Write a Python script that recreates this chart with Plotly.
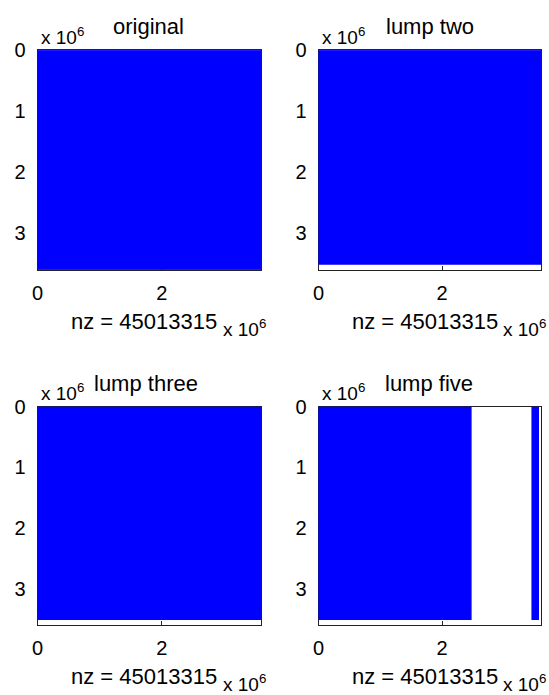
import plotly.graph_objects as go

# ---- data (units: matrix index) ----
panel_titles = ["original", "lump two", "lump three", "lump five"]
nz_values = [45013315, 45013315, 45013315, 45013315]
matrix_size = 3.6e6
# nonzero blocks per panel: column start/end, row start/end
block_col_start = [[0.0], [0.0], [0.0], [0.0, 3.46e6]]
block_col_end = [[3.6e6], [3.6e6], [3.6e6], [2.46e6, 3.55e6]]
block_row_start = [[0.0], [0.0], [0.0], [0.0, 0.0]]
block_row_end = [[3.6e6], [3.5e6], [3.5e6], [3.5e6, 3.5e6]]
x_tick_vals = [0, 2e6]
x_tick_text = ["0", "2"]
y_tick_vals = [0, 1e6, 2e6, 3e6]
y_tick_text = ["0", "1", "2", "3"]

W, H = 549, 695
FONT = "Liberation Sans, Arial, sans-serif"
BLUE = "#0000FF"

# panel pixel boxes (left, top, right, bottom) and title centres
boxes = [(32, 40, 258, 263), (316, 40, 541, 263), (32, 402, 258, 624), (316, 402, 541, 624)]
title_cx = [144, 429, 142, 428]

fig = go.Figure()
annotations = []

def px(x):
    return x / W

def py(y):
    return 1 - y / H

for i, (L, T, R, B) in enumerate(boxes):
    xa = "x" if i == 0 else f"x{i+1}"
    ya = "y" if i == 0 else f"y{i+1}"
    for c0, c1, r0, r1 in zip(block_col_start[i], block_col_end[i], block_row_start[i], block_row_end[i]):
        fig.add_trace(go.Scatter(
            x=[c0, c1, c1, c0, c0], y=[r0, r0, r1, r1, r0],
            mode="lines", fill="toself", fillcolor=BLUE,
            line=dict(color=BLUE, width=2),
            xaxis=xa, yaxis=ya, showlegend=False, hoverinfo="skip"))
    axkey = "" if i == 0 else str(i + 1)
    fig.update_layout(**{
        f"xaxis{axkey}": dict(
            domain=[px(L), px(R)], range=[0, matrix_size], anchor=ya,
            showgrid=False, zeroline=False, showline=True, linecolor="#222", linewidth=1,
            mirror=True, ticks="inside", ticklen=4, tickcolor="#222",
            tickvals=x_tick_vals, ticktext=x_tick_text, layer="below traces",
            tickfont=dict(family=FONT, size=20, color="black"), ticklabelstandoff=5),
        f"yaxis{axkey}": dict(
            domain=[py(B), py(T)], range=[matrix_size, 0], anchor=xa,
            showgrid=False, zeroline=False, showline=True, linecolor="#222", linewidth=1,
            mirror=True, ticks="inside", ticklen=4, tickcolor="#222",
            tickvals=y_tick_vals, ticktext=y_tick_text, layer="below traces",
            tickfont=dict(family=FONT, size=20, color="black"), ticklabelstandoff=7),
    })
    # y exponent
    annotations.append(dict(x=px(L + 1), y=py(T - 15), xref="paper", yref="paper",
                            text="x 10<sup>6</sup>", showarrow=False, xanchor="left", yanchor="middle",
                            font=dict(family=FONT, size=19, color="black")))
    # title
    annotations.append(dict(x=px(title_cx[i]), y=py(T - 24), xref="paper", yref="paper",
                            text=panel_titles[i], showarrow=False, xanchor="center", yanchor="middle",
                            font=dict(family=FONT, size=22, color="black")))
    # xlabel
    annotations.append(dict(x=px(L + 108), y=py(B + 52), xref="paper", yref="paper",
                            text=f"nz = {nz_values[i]}", showarrow=False, xanchor="center", yanchor="middle",
                            font=dict(family=FONT, size=22, color="black")))
    # x exponent
    annotations.append(dict(x=px(R - 41), y=py(B + 59), xref="paper", yref="paper",
                            text="x 10<sup>6</sup>", showarrow=False, xanchor="left", yanchor="middle",
                            font=dict(family=FONT, size=19, color="black")))

fig.update_layout(width=W, height=H, margin=dict(l=0, r=0, t=0, b=0),
                  paper_bgcolor="white", plot_bgcolor="white",
                  annotations=annotations, showlegend=False)
fig.write_html("out.html", config={"displayModeBar": False},
               post_script="document.body.style.margin='0';document.body.style.overflow='hidden';")
